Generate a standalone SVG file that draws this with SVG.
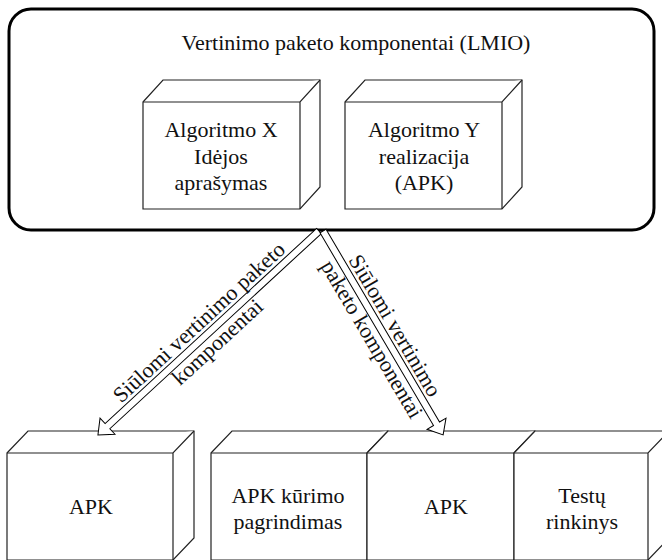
<svg xmlns="http://www.w3.org/2000/svg" width="662" height="560" viewBox="0 0 662 560">
<style>
  text { font-family: "Liberation Serif", "Times New Roman", serif; font-size: 22px; fill: #111; }
  .c { text-anchor: middle; }
  .box { fill: #fff; stroke: #222; stroke-width: 1.2; stroke-linejoin: miter; }
  .frame { fill: #fff; stroke: #000; stroke-width: 3; }
  .arrow { fill: #fff; stroke: #000; stroke-width: 1; stroke-linejoin: miter; }
</style>
<rect width="662" height="560" fill="#fff"/>

<g id="package">
  <rect class="frame" x="9" y="9" width="645" height="221" rx="22" ry="22"/>
  <text class="c" x="356" y="50">Vertinimo paketo komponentai (LMIO)</text>
</g>

<g id="node-idea">
  <path class="box" d="M143,102 L163,80 L320,80 L320,187 L300,209 L143,209 Z"/>
  <path class="box" d="M143,102 L300,102 L320,80 M300,102 L300,209" fill="none"/>
  <text class="c" x="221" y="137">Algoritmo X</text>
  <text class="c" x="221" y="163.5">Idėjos</text>
  <text class="c" x="221" y="190">aprašymas</text>
</g>

<g id="node-impl">
  <path class="box" d="M345,102 L365,80 L522,80 L522,187 L502,209 L345,209 Z"/>
  <path class="box" d="M345,102 L502,102 L522,80 M502,102 L502,209" fill="none"/>
  <text class="c" x="424" y="137">Algoritmo Y</text>
  <text class="c" x="424" y="163.5">realizacija</text>
  <text class="c" x="424" y="190">(APK)</text>
</g>

<g id="node-apk-left">
  <path class="box" d="M7,453 L28,431 L194,431 L194,538 L173,560 L7,560 Z"/>
  <path class="box" d="M7,453 L173,453 L194,431 M173,453 L173,562" fill="none"/>
  <text class="c" x="91" y="514">APK</text>
</g>

<g id="node-justification">
  <path class="box" d="M211,453 L232,431 L388,431 L388,538 L367,560 L211,560 Z"/>
  <path class="box" d="M211,453 L367,453 L388,431 M367,453 L367,562" fill="none"/>
  <text class="c" x="288" y="503">APK kūrimo</text>
  <text class="c" x="288" y="529">pagrindimas</text>
</g>

<g id="node-apk-right">
  <path class="box" d="M367,453 L388,431 L535,431 L535,538 L514,560 L367,560 Z"/>
  <path class="box" d="M367,453 L514,453 L535,431 M514,453 L514,562" fill="none"/>
  <text class="c" x="446" y="514">APK</text>
</g>

<g id="node-tests">
  <path class="box" d="M514,453 L535,431 L669,431 L669,538 L648,560 L514,560 Z"/>
  <path class="box" d="M514,453 L648,453 L669,431 M648,453 L648,562" fill="none"/>
  <text class="c" x="582" y="503">Testų</text>
  <text class="c" x="582" y="529">rinkinys</text>
</g>

<g id="connectors">
  <polygon class="arrow" transform="translate(319,231) rotate(137.3)" points="0,-3.5 287.8,-3.5 287.8,-11 300.8,0 287.8,11 287.8,3.5 0,3.5"/>
  <polygon class="arrow" transform="translate(323,231) rotate(59.5)" points="0,-3.5 223.7,-3.5 223.7,-11 236.7,0 223.7,11 223.7,3.5 0,3.5"/>
  <g transform="translate(208.7,332.7) rotate(-42.7)">
    <text class="c" x="0" y="-7">Siūlomi vertinimo paketo</text>
    <text class="c" x="0" y="20">komponentai</text>
  </g>
  <g transform="translate(382.8,332.7) rotate(59.5)">
    <text class="c" x="0" y="-7">Siūlomi vertinimo</text>
    <text class="c" x="0" y="20">paketo komponentai</text>
  </g>
</g>
</svg>
